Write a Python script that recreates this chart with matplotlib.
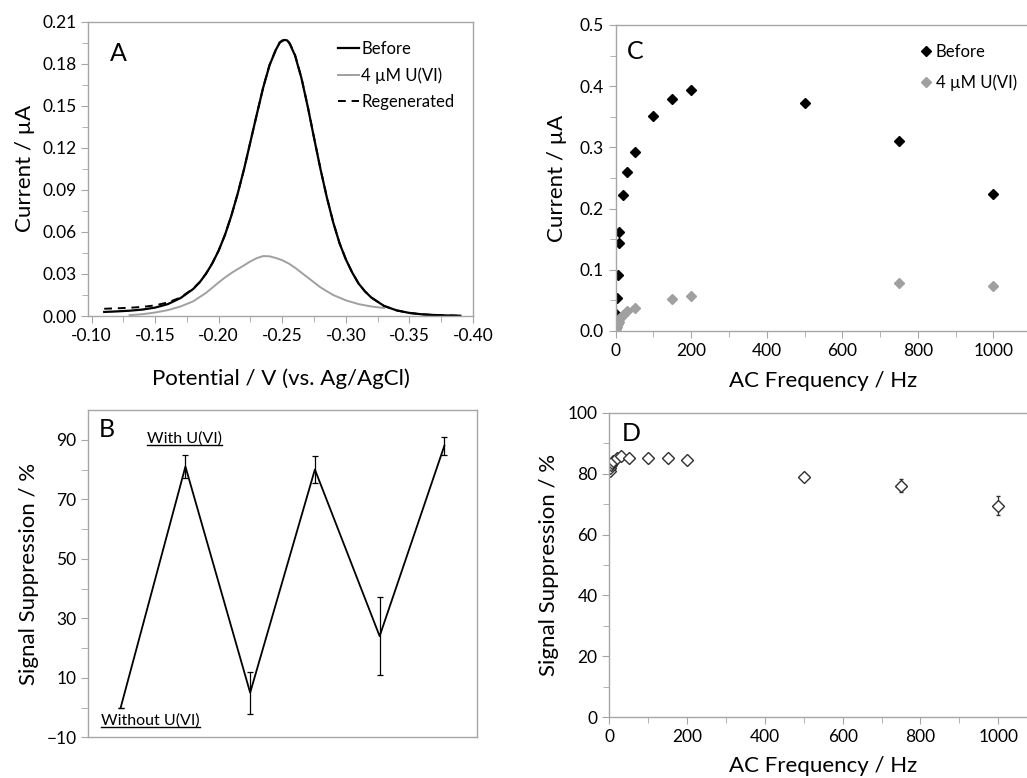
import numpy as np
import matplotlib
matplotlib.use("Agg")
import matplotlib.pyplot as plt
from matplotlib.ticker import MultipleLocator, FixedLocator
from matplotlib.lines import Line2D

plt.rcParams['font.family'] = ['Lato', 'DejaVu Sans']

# ---------- Panel A: AC voltammograms ----------
pot_before = [-0.11, -0.12, -0.13, -0.14, -0.15, -0.16, -0.17, -0.18, -0.185, -0.19,
              -0.195, -0.20, -0.205, -0.21, -0.215, -0.22, -0.225, -0.23, -0.235, -0.24,
              -0.245, -0.248, -0.25, -0.252, -0.254, -0.256, -0.26, -0.265, -0.27, -0.275,
              -0.28, -0.285, -0.29, -0.295, -0.30, -0.305, -0.31, -0.315, -0.32, -0.33,
              -0.34, -0.35, -0.36, -0.37, -0.38, -0.39]
cur_before = [0.0029, 0.0033, 0.0038, 0.0046, 0.0060, 0.0085, 0.0128, 0.0193, 0.0240, 0.0301,
              0.0376, 0.0467, 0.0580, 0.0717, 0.0875, 0.1050, 0.1245, 0.1440, 0.1630, 0.1790,
              0.1900, 0.1950, 0.1963, 0.1970, 0.1966, 0.1940, 0.1860, 0.1700, 0.1495, 0.1270,
              0.1050, 0.0848, 0.0670, 0.0520, 0.0404, 0.0310, 0.0232, 0.0176, 0.0132, 0.0072,
              0.0040, 0.0022, 0.0012, 0.0007, 0.0004, 0.0002]
cur_regen = [0.0052, 0.0055, 0.0059, 0.0065, 0.0076, 0.0097, 0.0132, 0.0196, 0.0242, 0.0302,
             0.0377, 0.0468, 0.0580, 0.0717, 0.0875, 0.1050, 0.1245, 0.1440, 0.1632, 0.1792,
             0.1903, 0.1953, 0.1966, 0.1974, 0.1970, 0.1944, 0.1864, 0.1703, 0.1498, 0.1272,
             0.1052, 0.0850, 0.0671, 0.0521, 0.0405, 0.0310, 0.0232, 0.0176, 0.0132, 0.0072,
             0.0040, 0.0022, 0.0012, 0.0007, 0.0004, 0.0002]
pot_uvi = [-0.13, -0.14, -0.15, -0.16, -0.17, -0.18, -0.19, -0.195, -0.20, -0.205,
           -0.21, -0.215, -0.22, -0.225, -0.23, -0.235, -0.24, -0.245, -0.25, -0.255,
           -0.26, -0.265, -0.27, -0.275, -0.28, -0.285, -0.29, -0.30, -0.31, -0.32, -0.33]
cur_uvi = [0.0006, 0.0013, 0.0025, 0.0042, 0.0068, 0.0105, 0.0165, 0.0202, 0.0240, 0.0275,
           0.0307, 0.0335, 0.0362, 0.0390, 0.0413, 0.0428, 0.0426, 0.0414, 0.0398, 0.0375,
           0.0345, 0.0310, 0.0275, 0.0240, 0.0205, 0.0177, 0.0150, 0.0112, 0.0085, 0.0068,
           0.0057]

# ---------- Panel B: regeneration cycles ----------
cycle = [1, 2, 3, 4, 5, 6]
supp_cycle = [0, 81, 5, 80, 24, 88]
supp_cycle_err = [0, 4, 7, 4.5, 13, 3]

# ---------- Panel C: frequency dependence ----------
freq_before = [1, 3, 5, 8, 10, 20, 30, 50, 100, 150, 200, 500, 750, 1000]
cur_freq_before = [0.028, 0.054, 0.091, 0.143, 0.162, 0.222, 0.259, 0.292, 0.352, 0.379,
                   0.393, 0.372, 0.310, 0.223]
freq_uvi = [1, 3, 5, 8, 10, 15, 20, 30, 50, 150, 200, 750, 1000]
cur_freq_uvi = [0.003, 0.007, 0.011, 0.015, 0.019, 0.022, 0.026, 0.032, 0.037, 0.052, 0.057,
                0.079, 0.073]

# ---------- Panel D: signal suppression vs frequency ----------
freq_supp = [1, 3, 5, 8, 10, 20, 30, 50, 100, 150, 200, 500, 750, 1000]
supp_freq = [81.0, 82.0, 82.8, 83.6, 84.2, 85.0, 85.8, 85.3, 85.3, 85.0, 84.5, 78.8, 76.1, 69.5]
supp_freq_err = [0.5, 0.5, 0.5, 0.5, 0.5, 0.5, 0.5, 0.5, 0.5, 0.5, 0.5, 0.6, 2.1, 3.0]

SPINE = '#a6a6a6'
GRAY = '#a0a0a0'
TICK_FS = 12.5
LABEL_FS = 15.5


def style_axes(ax, spines=('left', 'bottom', 'top', 'right')):
    for name, sp in ax.spines.items():
        sp.set_color(SPINE)
        sp.set_linewidth(1.0)
        sp.set_visible(name in spines)
    ax.tick_params(which='both', color=SPINE, direction='out', labelsize=TICK_FS,
                   top=False, right=False)
    ax.tick_params(which='major', length=5)
    ax.tick_params(which='minor', length=4)


fig = plt.figure(figsize=(10.27, 7.78), dpi=100)

# Panel A
axA = fig.add_axes([0.086, 0.5938, 0.3746, 0.3783])
axA.plot(pot_before, cur_before, color='black', lw=1.6, solid_joinstyle='round',
         label='Before')
axA.plot(pot_uvi, cur_uvi, color=GRAY, lw=1.4, solid_joinstyle='round', label='4 µM U(VI)')
axA.plot(pot_before, cur_regen, color='black', lw=1.4, ls=(0, (4, 3)), label='Regenerated')
axA.set_xlim(-0.0975, -0.40)
axA.set_ylim(0, 0.21)
axA.xaxis.set_major_locator(FixedLocator([-0.10, -0.15, -0.20, -0.25, -0.30, -0.35, -0.40]))
axA.xaxis.set_minor_locator(FixedLocator([-0.125, -0.175, -0.225, -0.275, -0.325, -0.375]))
axA.yaxis.set_major_locator(MultipleLocator(0.03))
axA.yaxis.set_minor_locator(MultipleLocator(0.015))
axA.xaxis.set_major_formatter(plt.FuncFormatter(lambda v, p: f'{v:.2f}'))
axA.yaxis.set_major_formatter(plt.FuncFormatter(lambda v, p: f'{v:.2f}'))
style_axes(axA)
axA.set_xlabel('Potential / V (vs. Ag/AgCl)', fontsize=16, labelpad=18)
axA.set_ylabel('Current / µA', fontsize=16, labelpad=5)
axA.text(0.055, 0.93, 'A', transform=axA.transAxes, fontsize=18, va='top')
axA.legend(loc='upper right', bbox_to_anchor=(0.99, 0.985), frameon=False, fontsize=12,
           handlelength=1.25, handletextpad=0.15, labelspacing=0.6)

# Panel B
axB = fig.add_axes([0.086, 0.0523, 0.3782, 0.4207])
axB.errorbar(cycle, supp_cycle, yerr=supp_cycle_err, color='black', lw=1.3,
             elinewidth=0.9, capsize=2.5, capthick=0.9)
axB.set_xlim(0.5, 6.5)
axB.set_ylim(-10, 100)
axB.yaxis.set_major_locator(FixedLocator([-10, 10, 30, 50, 70, 90]))
axB.yaxis.set_minor_locator(FixedLocator([0, 20, 40, 60, 80]))
axB.set_xticks([])
style_axes(axB)
axB.tick_params(axis='y', which='minor', length=5)
axB.set_ylabel('Signal Suppression / %', fontsize=16, labelpad=5)
axB.text(0.027, 0.975, 'B', transform=axB.transAxes, fontsize=18, va='top')
t_with = axB.text(1.4, 90.3, 'With U(VI)', fontsize=11.5, va='center')
t_without = axB.text(0.7, -4.5, 'Without U(VI)', fontsize=11.5, va='center')

# Panel C
axC = fig.add_axes([0.5995, 0.5746, 0.4045, 0.3933])
axC.plot(freq_before, cur_freq_before, ls='none', marker='D', ms=5.6, color='black',
         label='Before')
axC.plot(freq_uvi, cur_freq_uvi, ls='none', marker='D', ms=5.6, color=GRAY,
         label='4 µM U(VI)')
axC.set_xlim(0, 1100)
axC.set_ylim(0, 0.5)
axC.xaxis.set_major_locator(FixedLocator([0, 200, 400, 600, 800, 1000]))
axC.xaxis.set_minor_locator(FixedLocator([100, 300, 500, 700, 900]))
axC.yaxis.set_major_locator(MultipleLocator(0.1))
axC.yaxis.set_minor_locator(MultipleLocator(0.05))
axC.yaxis.set_major_formatter(plt.FuncFormatter(lambda v, p: f'{v:.1f}'))
style_axes(axC, spines=('left', 'bottom', 'top'))
axC.set_xlabel('AC Frequency / Hz', fontsize=16, labelpad=9)
axC.set_ylabel('Current / µA', fontsize=16, labelpad=9)
axC.text(0.027, 0.95, 'C', transform=axC.transAxes, fontsize=18, va='top')
axC.legend(loc='upper right', bbox_to_anchor=(0.99, 0.97), frameon=False, fontsize=12,
           handlelength=0.6, handletextpad=0.3, labelspacing=0.85, borderaxespad=0.2)

# Panel D
axD = fig.add_axes([0.5933, 0.078, 0.4166, 0.3915])
axD.errorbar(freq_supp, supp_freq, yerr=supp_freq_err, ls='none', marker='D', ms=6.2,
             mfc='white', mec='#303030', mew=1.0, ecolor='#303030', elinewidth=0.9,
             capsize=1.5, capthick=0.9)
axD.set_xlim(0, 1100)
axD.set_ylim(0, 100)
axD.xaxis.set_major_locator(FixedLocator([0, 200, 400, 600, 800, 1000]))
axD.xaxis.set_minor_locator(FixedLocator([100, 300, 500, 700, 900]))
axD.yaxis.set_major_locator(MultipleLocator(20))
axD.yaxis.set_minor_locator(MultipleLocator(10))
style_axes(axD, spines=('left', 'bottom', 'top'))
axD.set_xlabel('AC Frequency / Hz', fontsize=16, labelpad=8)
axD.set_ylabel('Signal Suppression / %', fontsize=16, labelpad=6)
axD.text(0.03, 0.97, 'D', transform=axD.transAxes, fontsize=18, va='top')

# underline the two annotations in panel B
fig.canvas.draw()
inv = axB.transAxes.inverted()
for t in (t_with, t_without):
    bb = t.get_window_extent()
    (x0, y0), (x1, _) = inv.transform([[bb.x0, bb.y0], [bb.x1, bb.y1]])
    axB.add_line(Line2D([x0, x1], [y0 + 0.002, y0 + 0.002], transform=axB.transAxes,
                        color='black', lw=1.0))

fig.savefig('out.png', dpi=100)
